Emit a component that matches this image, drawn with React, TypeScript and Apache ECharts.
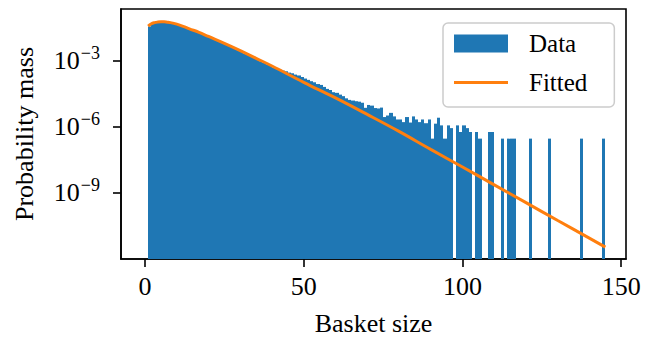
import React, { useEffect, useRef } from "react";
import * as echarts from "echarts";

// Basket sizes: each bar covers the bin [k, k+1)
const basketSizes = Array.from({ length: 144 }, (_, i) => i + 1);

// Probability mass per basket size (0 = empty bin)
const dataMass = [
  3.72e-2, 5.01e-2, 5.69e-2, 6.0e-2, 6.0e-2, 5.81e-2, 5.51e-2, 5.13e-2, 4.71e-2, 4.28e-2,
  3.85e-2, 3.44e-2, 3.06e-2, 2.71e-2, 2.39e-2, 2.09e-2, 1.83e-2, 1.59e-2, 1.38e-2, 1.2e-2,
  1.035e-2, 8.93e-3, 7.69e-3, 6.62e-3, 5.68e-3, 4.86e-3, 4.16e-3, 3.56e-3, 3.04e-3, 2.59e-3,
  2.21e-3, 1.88e-3, 1.6e-3, 1.36e-3, 1.15e-3, 9.77e-4, 8.28e-4, 7.01e-4, 5.94e-4, 5.02e-4,
  4.37e-4, 3.98e-4, 3.63e-4, 3.39e-4, 2.95e-4, 2.75e-4, 2.4e-4, 2.19e-4, 1.86e-4, 1.585e-4,
  1.38e-4, 1.2e-4, 1.07e-4, 8.91e-5, 8.13e-5, 6.61e-5, 5.37e-5, 4.79e-5, 3.8e-5, 3.55e-5,
  2.95e-5, 2.51e-5, 2.0e-5, 1.7e-5, 1.585e-5, 1.48e-5, 1.41e-5, 1.26e-5, 7.41e-6, 1.0e-5,
  9.33e-6, 7.24e-6, 6.92e-6, 7.59e-6, 2.82e-6, 3.31e-6, 4.37e-6, 3.02e-6, 2.19e-6, 2.19e-6,
  1.66e-6, 2.82e-6, 1.585e-6, 3.02e-6, 2.19e-6, 1.66e-6, 2.19e-6, 1.48e-6, 2.19e-6, 2.95e-7,
  1.41e-6, 2.63e-6, 1.18e-6, 2.95e-7, 1.18e-6, 8.85e-7, 0, 1.18e-6, 5.9e-7, 1.18e-6,
  8.85e-7, 5.9e-7, 0, 5.9e-7, 2.95e-7, 0, 0, 5.9e-7, 5.9e-7, 0,
  0, 2.95e-7, 0, 2.95e-7, 2.95e-7, 2.95e-7, 0, 0, 0, 0,
  2.95e-7, 0, 0, 0, 0, 0, 2.95e-7, 0, 0, 0,
  0, 0, 0, 0, 0, 0, 2.95e-7, 0, 0, 0,
  0, 0, 0, 2.95e-7,
];

// Fitted curve, read at these basket sizes
const fitX = [1, 2, 3, 4, 5, 6, 7, 8, 10, 12, 14, 17, 20, 25, 30, 35, 40, 50, 60, 70, 80, 90, 100, 110, 120, 130, 145];
const fitMass = [
  3.8e-2, 4.9e-2, 5.5e-2, 5.82e-2, 5.96e-2, 5.96e-2, 5.75e-2, 5.5e-2, 4.68e-2, 3.72e-2,
  2.88e-2, 2.0e-2, 1.29e-2, 6.31e-3, 2.95e-3, 1.32e-3, 5.89e-4, 1.07e-4, 2.09e-5, 3.72e-6,
  6.31e-7, 9.55e-8, 1.51e-8, 2.34e-9, 3.63e-10, 5.62e-11, 3.47e-12,
];

const xTicks = [0, 50, 100, 150];
const yTicks = [1e-9, 1e-6, 1e-3];

const BLUE = "#1f77b4";
const ORANGE = "#ff7f0e";
const FONT = "Liberation Serif";

export default function App() {
  const ref = useRef<HTMLDivElement>(null);
  useEffect(() => {
    if (!ref.current) return;
    const chart = echarts.init(ref.current, undefined, { renderer: "svg" });
    const barData = basketSizes
      .map((k, i) => [k, dataMass[i]])
      .filter((d) => d[1] > 0);
    const lineData = fitX.map((x, i) => [x, fitMass[i]]);
    chart.setOption({
      animation: false,
      grid: {
        left: 121,
        right: 29,
        top: 9,
        bottom: 80,
        show: true,
        borderColor: "#000",
        borderWidth: 1.6,
        backgroundColor: "transparent",
      },
      xAxis: {
        type: "value",
        min: -7.56,
        max: 151.5,
        name: "Basket size",
        nameLocation: "middle",
        nameGap: 51,
        nameTextStyle: { fontFamily: FONT, fontSize: 26, color: "#000" },
        splitLine: { show: false },
        axisLine: { show: true, onZero: false, lineStyle: { color: "#000", width: 1.6 } },
        axisTick: { show: true, length: 8, lineStyle: { color: "#000", width: 1.6 }, customValues: xTicks },
        axisLabel: { fontFamily: FONT, fontSize: 26, color: "#000", margin: 14, customValues: xTicks },
      },
      yAxis: {
        type: "log",
        logBase: 10,
        min: 1e-12,
        max: 0.2291,
        name: "Probability mass",
        nameLocation: "middle",
        nameGap: 84,
        nameTextStyle: { fontFamily: FONT, fontSize: 26, color: "#000" },
        splitLine: { show: false },
        minorTick: { show: false },
        axisLine: { show: true, onZero: false, lineStyle: { color: "#000", width: 1.6 } },
        axisTick: { show: true, length: 8, lineStyle: { color: "#000", width: 1.6 }, customValues: yTicks },
        axisLabel: {
          customValues: yTicks,
          margin: 21,
          color: "#000",
          formatter: (v: number) => {
            const e = Math.round(Math.log10(v));
            return "{b|10}{s|\u2212" + Math.abs(e) + "}";
          },
          rich: {
            b: { fontFamily: FONT, fontSize: 26, color: "#000", verticalAlign: "bottom", lineHeight: 26 },
            s: { fontFamily: FONT, fontSize: 18, color: "#000", verticalAlign: "bottom", lineHeight: 18, padding: [0, 0, 12, 1] },
          },
        },
      },
      legend: {
        show: true,
        orient: "vertical",
        left: 443,
        top: 23,
        padding: [8, 27, 12, 11],
        itemGap: 14,
        itemWidth: 54,
        itemHeight: 18,
        backgroundColor: "rgba(255,255,255,0.8)",
        borderColor: "#cccccc",
        borderWidth: 1.5,
        borderRadius: 5,
        textStyle: { fontFamily: FONT, fontSize: 25, color: "#000", padding: [0, 0, 0, 16] },
        data: [
          { name: "Data", icon: "rect" },
          { name: "Fitted", icon: "path://M0,0H54V3H0Z" },
        ],
      },
      series: [
        {
          name: "Data",
          type: "custom",
          color: BLUE,
          itemStyle: { color: BLUE },
          clip: true,
          encode: { x: 0, y: 1 },
          data: barData,
          renderItem: (params: any, api: any) => {
            const k = api.value(0);
            const v = api.value(1);
            const p0 = api.coord([k, v]);
            const p1 = api.coord([k + 1, v]);
            const cs = params.coordSys;
            const bottom = cs.y + cs.height;
            const x0 = Math.round(p0[0]);
            const x1 = Math.round(p1[0]);
            return {
              type: "rect",
              shape: { x: x0, y: p0[1], width: x1 - x0, height: bottom - p0[1] },
              style: { fill: BLUE },
            };
          },
          z: 1,
        },
        {
          name: "Fitted",
          type: "line",
          color: ORANGE,
          data: lineData,
          smooth: 0.4,
          symbol: "none",
          showSymbol: false,
          lineStyle: { color: ORANGE, width: 3 },
          z: 3,
        },
      ],
    });
    return () => chart.dispose();
  }, []);
  return (
    <div
      ref={ref}
      style={{ position: "fixed", left: 0, top: 0, width: 655, height: 341, background: "#fff" }}
    />
  );
}
